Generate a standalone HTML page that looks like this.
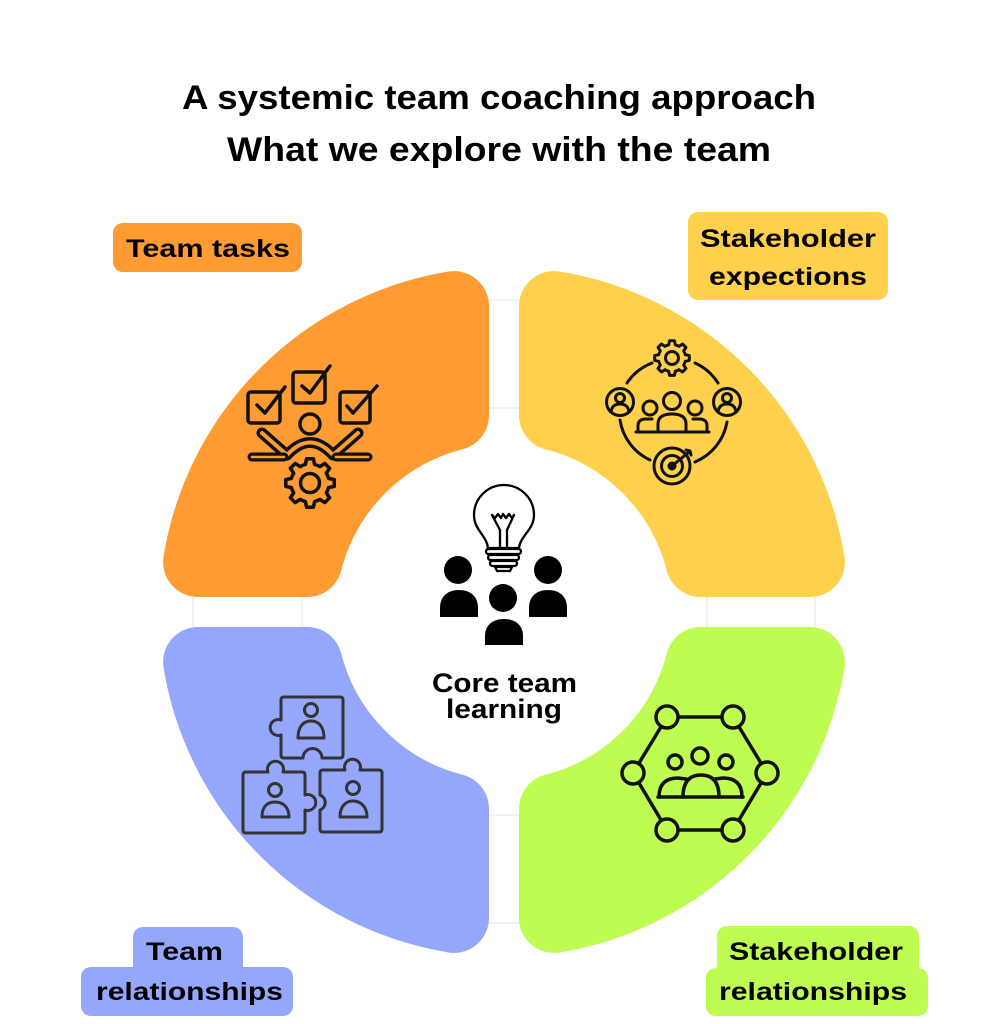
<!DOCTYPE html>
<html>
<head>
<meta charset="utf-8">
<style>
  html,body{margin:0;padding:0;background:#fff;}
  svg{display:block;}
  .t{font-family:"Liberation Sans",Arial,sans-serif;font-weight:bold;fill:#000;}
</style>
</head>
<body>
<svg width="1008" height="1024" viewBox="0 0 1008 1024" xmlns="http://www.w3.org/2000/svg">
  <defs>
    <path id="gear" d="M9.90,-1.39 L9.90,1.39 L7.57,1.89 A7.8,7.8 0 0 1 6.68,4.02 L7.99,6.02 L6.02,7.99 L4.02,6.68 A7.8 7.8 0 0 1 1.89,7.57 L1.39,9.90 L-1.39,9.90 L-1.89,7.57 A7.8 7.8 0 0 1 -4.02,6.68 L-6.02,7.99 L-7.99,6.02 L-6.68,4.02 A7.8 7.8 0 0 1 -7.57,1.89 L-9.90,1.39 L-9.90,-1.39 L-7.57,-1.89 A7.8 7.8 0 0 1 -6.68,-4.02 L-7.99,-6.02 L-6.02,-7.99 L-4.02,-6.68 A7.8 7.8 0 0 1 -1.89,-7.57 L-1.39,-9.90 L1.39,-9.90 L1.89,-7.57 A7.8 7.8 0 0 1 4.02,-6.68 L6.02,-7.99 L7.99,-6.02 L6.68,-4.02 A7.8 7.8 0 0 1 7.57,-1.89 Z"/>
  </defs>

  <rect width="1008" height="1024" fill="#fff"/>

  <!-- Title -->
  <text class="t" x="182" y="109" font-size="34" textLength="634" lengthAdjust="spacingAndGlyphs">A systemic team coaching approach</text>
  <text class="t" x="227" y="161" font-size="34" textLength="544" lengthAdjust="spacingAndGlyphs">What we explore with the team</text>

  <!-- faint gap guide lines -->
  <g stroke="#e1e4ec" stroke-width="1">
    <line x1="193" y1="597" x2="193" y2="627"/>
    <line x1="302" y1="597" x2="302" y2="627"/>
    <line x1="707" y1="597" x2="707" y2="627"/>
    <line x1="815" y1="597" x2="815" y2="627"/>
    <line x1="489" y1="300" x2="519" y2="300"/>
    <line x1="489" y1="408" x2="519" y2="408"/>
    <line x1="489" y1="815" x2="519" y2="815"/>
    <line x1="489" y1="923" x2="519" y2="923"/>
  </g>

  <!-- Quadrant shapes -->
  <g stroke-width="70" stroke-linejoin="round">
    <path fill="#FE9C33" stroke="#FE9C33" d="M454,415.3 L454,306.1 A310 310 0 0 0 198.1,562 L307.3,562 A203 203 0 0 1 454,415.3 Z"/>
    <path fill="#FED04B" stroke="#FED04B" d="M554,415.3 L554,306.1 A310 310 0 0 1 809.9,562 L700.7,562 A203 203 0 0 0 554,415.3 Z"/>
    <path fill="#95A7FC" stroke="#95A7FC" d="M454,808.7 L454,917.9 A310 310 0 0 1 198.1,662 L307.3,662 A203 203 0 0 0 454,808.7 Z"/>
    <path fill="#BEFC52" stroke="#BEFC52" d="M554,808.7 L554,917.9 A310 310 0 0 0 809.9,662 L700.7,662 A203 203 0 0 1 554,808.7 Z"/>
  </g>

  <!-- Labels -->
  <rect x="113" y="223" width="189" height="49" rx="10" fill="#FE9C33"/>
  <text class="t" x="126" y="257" font-size="25" textLength="164" lengthAdjust="spacingAndGlyphs">Team tasks</text>

  <rect x="688" y="212" width="200" height="88" rx="10" fill="#FED04B"/>
  <text class="t" x="700" y="247" font-size="25" textLength="176" lengthAdjust="spacingAndGlyphs">Stakeholder</text>
  <text class="t" x="709" y="285" font-size="25" textLength="158" lengthAdjust="spacingAndGlyphs">expections</text>

  <rect x="133" y="927" width="110" height="50" rx="10" fill="#95A7FC"/>
  <rect x="81" y="967" width="212" height="49" rx="10" fill="#95A7FC"/>
  <text class="t" x="146" y="960" font-size="25" textLength="77" lengthAdjust="spacingAndGlyphs">Team</text>
  <text class="t" x="96" y="1000" font-size="25" textLength="187" lengthAdjust="spacingAndGlyphs">relationships</text>

  <rect x="717" y="926" width="202" height="50" rx="10" fill="#BEFC52"/>
  <rect x="706" y="968" width="222" height="48" rx="10" fill="#BEFC52"/>
  <text class="t" x="729" y="960" font-size="25" textLength="174" lengthAdjust="spacingAndGlyphs">Stakeholder</text>
  <text class="t" x="719" y="1000" font-size="25" textLength="188" lengthAdjust="spacingAndGlyphs">relationships</text>

  <!-- Center -->
  <text class="t" x="432" y="692" font-size="27" textLength="145" lengthAdjust="spacingAndGlyphs">Core team</text>
  <text class="t" x="446" y="718" font-size="27" textLength="116" lengthAdjust="spacingAndGlyphs">learning</text>

  <!-- bulb -->
  <g fill="none" stroke="#000" stroke-width="2.3" stroke-linejoin="round" stroke-linecap="round">
    <path d="M488,548 C487,536 474,530 474,515 A30 30 0 1 1 534,515 C534,530 520,536 519,548 Z"/>
    <path d="M492,515 L495,518 L498,514 L501,518 L503,514 L506,518 L509,514 L512,518 L514,515 L507,530 L507,548 M500,548 L500,530 L492,515"/>
    <rect x="486" y="549" width="35" height="5" rx="2.5"/>
    <rect x="488" y="555" width="31" height="5" rx="2.5"/>
    <rect x="490" y="561" width="27" height="5" rx="2.5"/>
    <path d="M495,567 L512,567 L510,571 L497,571 Z"/>
  </g>
  <!-- people filled -->
  <g fill="#000">
    <circle cx="458" cy="570" r="14"/>
    <path d="M440,617 L440,608 C440,596 448,590 459,590 C470,590 478,596 478,608 L478,617 Z"/>
    <circle cx="548" cy="570" r="14"/>
    <path d="M529,617 L529,608 C529,596 537,590 548,590 C559,590 567,596 567,608 L567,617 Z"/>
    <circle cx="503" cy="598" r="14"/>
    <path d="M485,645 L485,636 C485,625 493,619 504,619 C515,619 523,625 523,636 L523,645 Z"/>
  </g>

  <!-- Team tasks icon -->
  <g fill="none" stroke="#111" stroke-width="3.5" stroke-linecap="round" stroke-linejoin="round">
    <rect x="248" y="392" width="32" height="31" rx="3"/>
    <path d="M257,405 L265,413 L285,387"/>
    <rect x="293" y="372" width="32" height="31" rx="3"/>
    <path d="M302,386 L310,393 L330,366"/>
    <rect x="340" y="392" width="30" height="31" rx="3"/>
    <path d="M347,406 L353,413 L377,386"/>
    <circle cx="310" cy="424" r="10"/>
  </g>
  <g fill="none" stroke-linecap="round" stroke-linejoin="round">
    <path d="M262,433 L287,455 Q310,430 333,455 L358,433" stroke="#111" stroke-width="11"/>
    <path d="M262,433 L287,455 Q310,430 333,455 L358,433" stroke="#FE9C33" stroke-width="4"/>
    <line x1="252" y1="457" x2="284" y2="457" stroke="#111" stroke-width="9"/>
    <line x1="252" y1="457" x2="284" y2="457" stroke="#FE9C33" stroke-width="2.5"/>
    <line x1="336" y1="457" x2="368" y2="457" stroke="#111" stroke-width="9"/>
    <line x1="336" y1="457" x2="368" y2="457" stroke="#FE9C33" stroke-width="2.5"/>
  </g>
  <use href="#gear" transform="translate(310,483) scale(2.45)" fill="#FE9C33" stroke="#111" stroke-width="1.45" stroke-linejoin="round"/>
  <circle cx="310" cy="483" r="9.5" fill="none" stroke="#111" stroke-width="3.5"/>

  <!-- Stakeholder expectations icon -->
  <g fill="none" stroke="#111" stroke-width="3" stroke-linecap="round" stroke-linejoin="round">
    <path d="M652,363 A53 53 0 0 0 627,383"/>
    <path d="M695,363 A53 53 0 0 1 718,383"/>
    <path d="M620,420 A53 53 0 0 0 650,460"/>
    <path d="M727,422 A53 53 0 0 1 695,462"/>
    <circle cx="620" cy="402" r="13.5"/>
    <circle cx="620" cy="398" r="4.5"/>
    <path d="M611,412 Q612,404 620,404 Q628,404 629,412"/>
    <circle cx="727" cy="402" r="13.5"/>
    <circle cx="727" cy="398" r="4.5"/>
    <path d="M718,412 Q719,404 727,404 Q735,404 736,412"/>
    <circle cx="650" cy="408" r="7"/>
    <circle cx="695" cy="408" r="7"/>
    <circle cx="672" cy="401" r="8.5"/>
    <path d="M638,432 L638,426 Q638,419 646,419 L652,419"/>
    <path d="M707,432 L707,426 Q707,419 699,419 L693,419"/>
    <path d="M658,432 L658,424 Q658,414 672,414 Q686,414 686,424 L686,432"/>
    <line x1="636" y1="432" x2="709" y2="432"/>
    <circle cx="672" cy="466" r="18"/>
    <circle cx="672" cy="466" r="10.5"/>
    <circle cx="672" cy="466" r="3"/>
    <path d="M672,466 L689,452 M686,450 L690,451 L691,455"/>
  </g>
  <use href="#gear" transform="translate(672,358) scale(1.75)" fill="#FED04B" stroke="#111" stroke-width="1.7" stroke-linejoin="round"/>
  <circle cx="672" cy="358" r="6.5" fill="none" stroke="#111" stroke-width="3"/>

  <!-- Team relationships icon (puzzle) -->
  <g fill="none" stroke="#333" stroke-width="3" stroke-linejoin="round" stroke-linecap="round">
    <path d="M284,697 L340,697 Q343,697 343,700 L343,755 Q343,758 340,758 L322,758 A9.5 9.5 0 0 0 303,758 L284,758 Q281,758 281,755 L281,735 A8 8 0 1 1 281,720 L281,700 Q281,697 284,697 Z"/>
    <circle cx="311" cy="710" r="6.5"/>
    <path d="M298,738 C298,727 303,721 311,721 C319,721 324,727 324,738 Z"/>
    <path d="M246,772 L268,772 A8 8 0 1 1 283,772 L302,772 Q305,772 305,775 L305,795 A8 8 0 1 1 305,810 L305,830 Q305,833 302,833 L246,833 Q243,833 243,830 L243,775 Q243,772 246,772 Z"/>
    <circle cx="275" cy="790" r="6.5"/>
    <path d="M262,817 C262,807 267,802 275,802 C283,802 289,807 289,817 Z"/>
    <path d="M323,770 L345,770 A8 8 0 1 1 360,770 L379,770 Q382,770 382,773 L382,829 Q382,832 379,832 L323,832 Q320,832 320,829 L320,810 A8 8 0 0 0 320,795 L320,773 Q320,770 323,770 Z"/>
    <circle cx="353" cy="788" r="6.5"/>
    <path d="M340,817 C340,807 345,801 353,801 C361,801 367,807 367,817 Z"/>
  </g>

  <!-- Stakeholder relationships icon -->
  <g stroke="#111" stroke-width="3.5" stroke-linecap="round" stroke-linejoin="round">
    <polygon points="667,717 733,717 767,773 733,830 667,830 633,773" fill="none"/>
    <g fill="#BEFC52">
      <circle cx="667" cy="717" r="11"/>
      <circle cx="733" cy="717" r="11"/>
      <circle cx="633" cy="773" r="11"/>
      <circle cx="767" cy="773" r="11"/>
      <circle cx="667" cy="830" r="11"/>
      <circle cx="733" cy="830" r="11"/>
    </g>
    <g fill="none">
      <circle cx="675" cy="762" r="7"/>
      <circle cx="700" cy="756" r="8"/>
      <circle cx="726" cy="762" r="7"/>
      <path d="M659,797 Q659,778 678,778 L686,779"/>
      <path d="M742,797 Q742,778 723,778 L715,779"/>
      <path d="M683,797 Q683,775 701,775 Q719,775 719,797"/>
      <line x1="658" y1="797" x2="743" y2="797"/>
    </g>
  </g>
</svg>
</body>
</html>
